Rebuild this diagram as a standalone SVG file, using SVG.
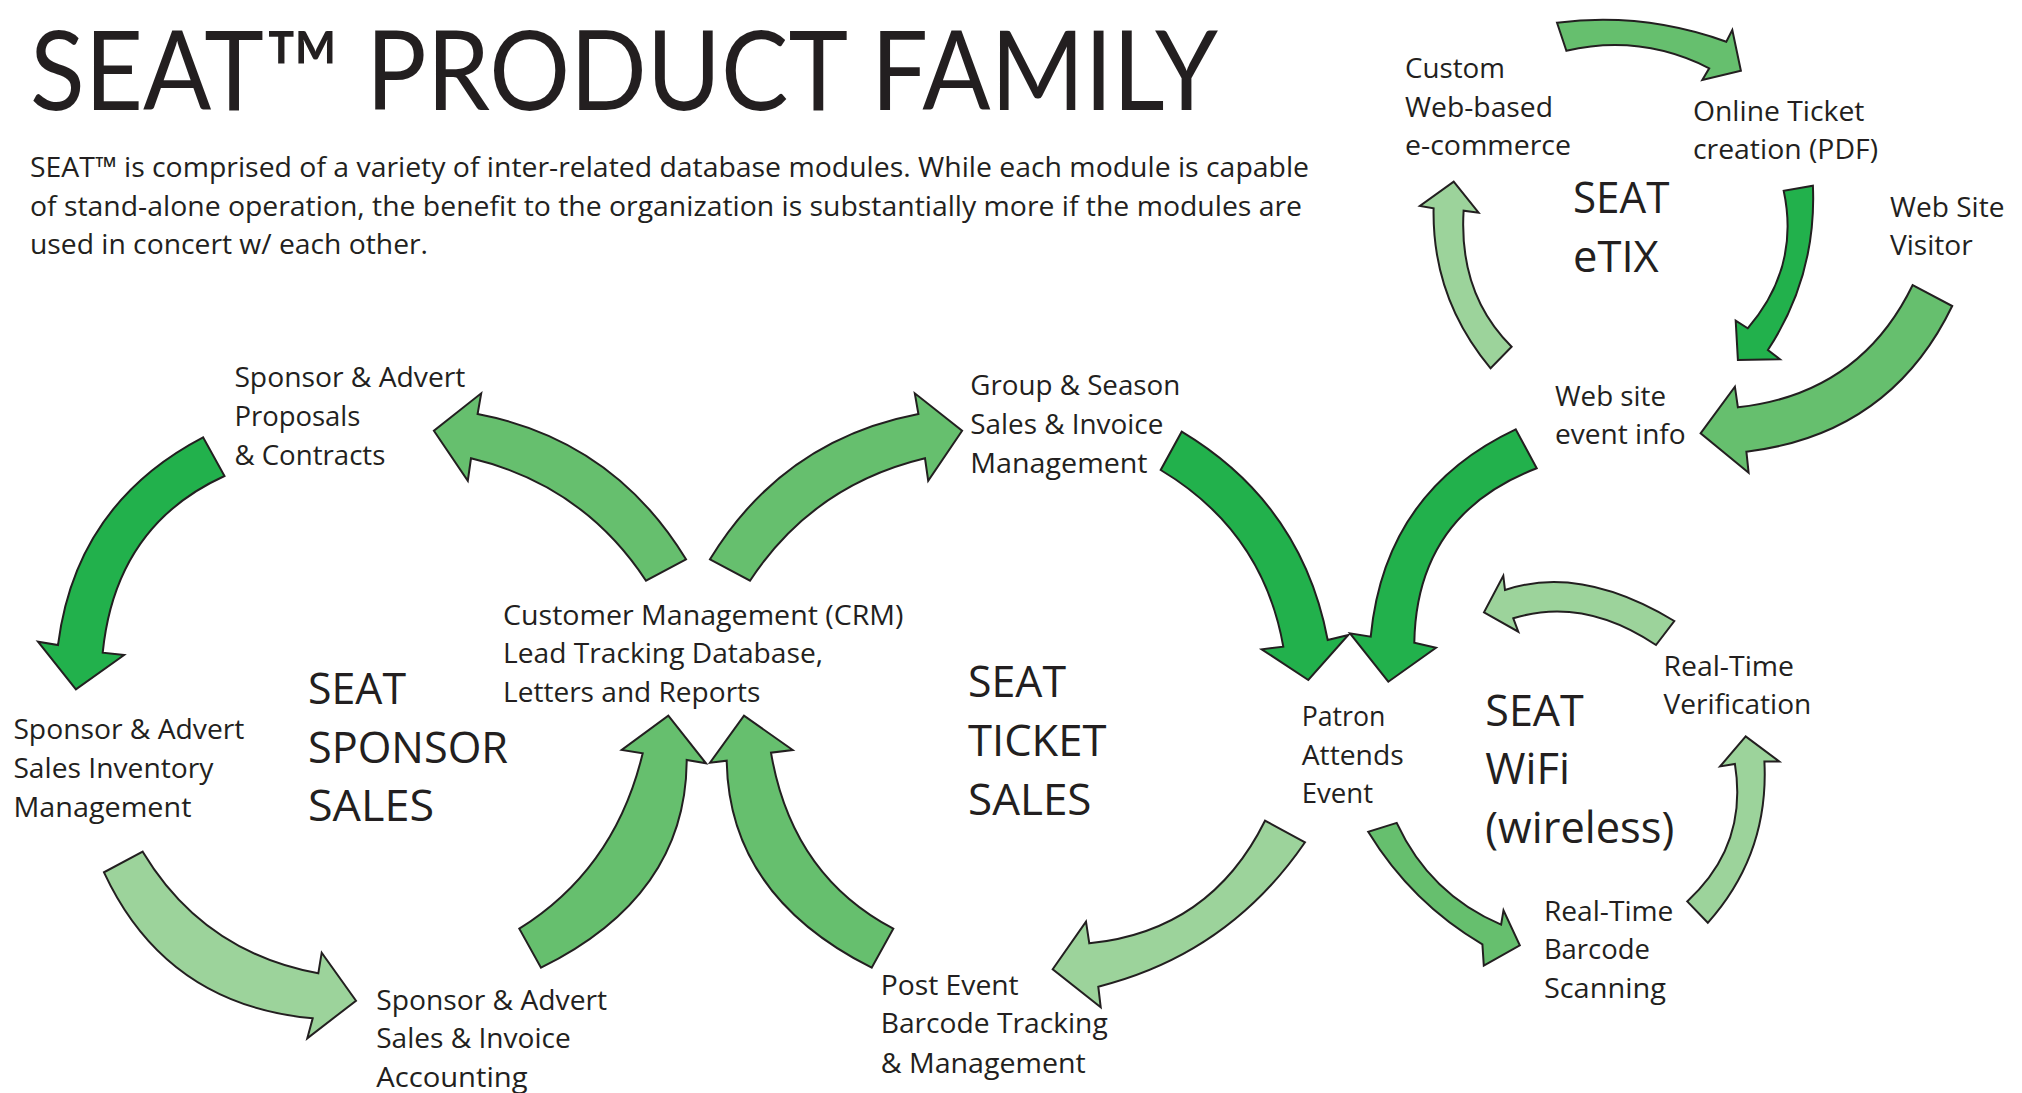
<svg xmlns="http://www.w3.org/2000/svg" width="2022" height="1093" viewBox="0 0 2022 1093">
<style>
text{font-family:"Open Sans","Noto Sans","Liberation Sans",sans-serif;fill:#231f20}
.t{font-family:Lato,"Open Sans",sans-serif;font-size:110px}
.b{font-size:28px}
.l{font-size:28px}
.g{font-size:44px}
.ar{stroke:#231f20;stroke-width:2;stroke-linejoin:miter;stroke-miterlimit:10}
.dk{fill:#22b14c}
.md{fill:#66bf6e}
.lt{fill:#9cd39b}
</style>
<rect width="2022" height="1093" fill="#ffffff"/>
<g id="title">
<text class="t" x="30" y="110" textLength="1188" lengthAdjust="spacingAndGlyphs">SEAT™ PRODUCT FAMILY</text>
<text class="b" x="30" y="177" textLength="1279" lengthAdjust="spacingAndGlyphs">SEAT™ is comprised of a variety of inter-related database modules. While each module is capable</text>
<text class="b" x="30" y="215.5" textLength="1272" lengthAdjust="spacingAndGlyphs">of stand-alone operation, the benefit to the organization is substantially more if the modules are</text>
<text class="b" x="30" y="254" textLength="398" lengthAdjust="spacingAndGlyphs">used in concert w/ each other.</text>
</g>
<g id="connectors">
<path id="a-proposals-inventory" class="ar dk" d="M203.1,437.3 Q75.9,503.7 58,645 L38,641.7 L75.9,689.3 L124.1,655 L102.7,652.7 Q115.4,525.7 224.5,476 Z"/>
<path id="a-crm-proposals" class="ar md" d="M686,559.3 Q613.2,440 477.6,414 L481.2,393.3 L433.9,430.7 L467.8,480.7 L471,458.3 Q583.1,485.1 646,580.7 Z"/>
<path id="a-crm-group" class="ar md" d="M710,559.3 Q782.8,440 918.4,414 L914.8,393.3 L962.1,430.7 L928.2,480.7 L925,458.3 Q812.9,485.1 750,580.7 Z"/>
<path id="a-group-patron" class="ar dk" d="M1181.7,431.7 Q1301.9,503.8 1327.7,640 L1348.3,635 L1308.3,680 L1261.7,649.3 L1283.3,646.7 Q1263,531.3 1160.7,470 Z"/>
<path id="a-eventinfo-patron" class="ar dk" d="M1515.7,429.3 Q1384.8,491 1370.7,636.7 L1350,633.3 L1388.3,681.7 L1436,647.7 L1414.3,642.7 Q1416.5,514.5 1536.7,468.3 Z"/>
<path id="a-inventory-accounting" class="ar lt" d="M104,872.3 Q165.7,1004.9 312.7,1018.3 L307.3,1038.3 L356,1000.7 L321.7,952.7 L318.3,973.3 Q203.1,952.1 142.7,851.7 Z"/>
<path id="a-accounting-crm" class="ar md" d="M519.3,928.7 Q615,869 642.7,753.3 L621.7,750 L668.3,715.7 L706,763.3 L686.7,760 Q686.2,896.2 541,967.7 Z"/>
<path id="a-postevent-crm" class="ar md" d="M893.3,928.7 Q791.9,875.3 771,752.7 L792.7,750 L744,715.7 L710,762.7 L726.7,760.7 Q728.8,895.8 871.7,967.7 Z"/>
<path id="a-patron-postevent" class="ar lt" d="M1265,820.7 Q1210.3,931.2 1089.3,943.3 L1086,921.7 L1052.7,969.3 L1100.7,1007.3 L1098.3,986.7 Q1228.4,954.1 1305,842.3 Z"/>
<path id="a-patron-barcode" class="ar md" d="M1368.2,831.8 Q1411.9,903.2 1482.4,944.3 L1483.8,965.7 L1519.8,945.3 L1503.5,910.3 L1501.1,924.6 Q1429.9,894.5 1396.7,822.9 Z"/>
<path id="a-barcode-verification" class="ar lt" d="M1707.8,922.8 Q1769.1,854.3 1764.4,761.4 L1779.2,761.4 L1745.7,736.4 L1720.1,766.4 L1734.9,763.9 Q1748.2,845.6 1687.2,901.4 Z"/>
<path id="a-verification-wifi" class="ar lt" d="M1674.3,621 Q1580.4,564.5 1505,590 L1503.3,575.7 L1484,612.3 L1518.3,631.7 L1513.3,618.3 Q1583.4,596.4 1656,645 Z"/>
<path id="a-eventinfo-custom" class="ar lt" d="M1490.6,368.3 Q1431.9,298.1 1433.6,208.3 L1419.9,206 L1453.7,181.7 L1478.6,212.7 L1463.6,210.7 Q1458.6,294.3 1511.6,346.7 Z"/>
<path id="a-custom-online" class="ar md" d="M1557,22.7 Q1643.4,11.8 1726.3,41.7 L1732.3,30 L1740.9,70.7 L1702.3,80 L1709.2,68.3 Q1641.2,33.7 1566.4,50.7 Z"/>
<path id="a-online-eventinfo" class="ar dk" d="M1812.9,185.7 Q1816.8,275.4 1767.9,350 L1779.9,359.3 L1737.9,360 L1735.7,320.7 L1747.7,328.3 Q1800.1,267.7 1783.7,190.7 Z"/>
<path id="a-visitor-eventinfo" class="ar md" d="M1952.2,306 Q1890.1,434.4 1746.4,451.7 L1748.6,472.7 L1700.6,433.3 L1734.9,386.7 L1737.9,407.3 Q1859.7,394.1 1912.7,285 Z"/>
</g>
<g id="n-proposals">
<text class="l" x="234.4" y="387" textLength="231" lengthAdjust="spacingAndGlyphs">Sponsor &amp; Advert</text>
<text class="l" x="234.4" y="426" textLength="126" lengthAdjust="spacingAndGlyphs">Proposals</text>
<text class="l" x="234.4" y="465" textLength="151" lengthAdjust="spacingAndGlyphs">&amp; Contracts</text>
</g>
<g id="n-inventory">
<text class="l" x="13.4" y="739" textLength="231" lengthAdjust="spacingAndGlyphs">Sponsor &amp; Advert</text>
<text class="l" x="13.4" y="778" textLength="200" lengthAdjust="spacingAndGlyphs">Sales Inventory</text>
<text class="l" x="13.4" y="817" textLength="178" lengthAdjust="spacingAndGlyphs">Management</text>
</g>
<g id="n-sponsor-sales">
<text class="g" x="308" y="704" textLength="98" lengthAdjust="spacingAndGlyphs">SEAT</text>
<text class="g" x="308" y="763" textLength="200" lengthAdjust="spacingAndGlyphs">SPONSOR</text>
<text class="g" x="308" y="821" textLength="126" lengthAdjust="spacingAndGlyphs">SALES</text>
</g>
<g id="n-crm">
<text class="l" x="503" y="625" textLength="400.5" lengthAdjust="spacingAndGlyphs">Customer Management (CRM)</text>
<text class="l" x="503" y="663.3" textLength="320" lengthAdjust="spacingAndGlyphs">Lead Tracking Database,</text>
<text class="l" x="503" y="701.7" textLength="257.5" lengthAdjust="spacingAndGlyphs">Letters and Reports</text>
</g>
<g id="n-group-season">
<text class="l" x="970.3" y="395" textLength="210" lengthAdjust="spacingAndGlyphs">Group &amp; Season</text>
<text class="l" x="970.3" y="434" textLength="193" lengthAdjust="spacingAndGlyphs">Sales &amp; Invoice</text>
<text class="l" x="970.3" y="472.7" textLength="177.3" lengthAdjust="spacingAndGlyphs">Management</text>
</g>
<g id="n-ticket-sales">
<text class="g" x="968" y="697" textLength="98" lengthAdjust="spacingAndGlyphs">SEAT</text>
<text class="g" x="968" y="756" textLength="138.4" lengthAdjust="spacingAndGlyphs">TICKET</text>
<text class="g" x="968" y="814.5" textLength="123.5" lengthAdjust="spacingAndGlyphs">SALES</text>
</g>
<g id="n-patron">
<text class="l" x="1301.7" y="726.4" textLength="83.7" lengthAdjust="spacingAndGlyphs">Patron</text>
<text class="l" x="1301.7" y="764.6" textLength="102" lengthAdjust="spacingAndGlyphs">Attends</text>
<text class="l" x="1301.7" y="803.2" textLength="71.4" lengthAdjust="spacingAndGlyphs">Event</text>
</g>
<g id="n-wifi">
<text class="g" x="1485.3" y="725.7" textLength="98.5" lengthAdjust="spacingAndGlyphs">SEAT</text>
<text class="g" x="1485.3" y="784" textLength="84.7" lengthAdjust="spacingAndGlyphs">WiFi</text>
<text class="g" x="1485.3" y="842.5" textLength="189" lengthAdjust="spacingAndGlyphs">(wireless)</text>
</g>
<g id="n-verification">
<text class="l" x="1663.5" y="675.7" textLength="130.5" lengthAdjust="spacingAndGlyphs">Real-Time</text>
<text class="l" x="1663.5" y="713.9" textLength="147.7" lengthAdjust="spacingAndGlyphs">Verification</text>
</g>
<g id="n-barcode-scanning">
<text class="l" x="1543.9" y="921" textLength="129.5" lengthAdjust="spacingAndGlyphs">Real-Time</text>
<text class="l" x="1543.9" y="959.2" textLength="106" lengthAdjust="spacingAndGlyphs">Barcode</text>
<text class="l" x="1543.9" y="997.8" textLength="122" lengthAdjust="spacingAndGlyphs">Scanning</text>
</g>
<g id="n-post-event">
<text class="l" x="880.7" y="995" textLength="138" lengthAdjust="spacingAndGlyphs">Post Event</text>
<text class="l" x="880.7" y="1033.3" textLength="227" lengthAdjust="spacingAndGlyphs">Barcode Tracking</text>
<text class="l" x="880.7" y="1072.7" textLength="205" lengthAdjust="spacingAndGlyphs">&amp; Management</text>
</g>
<g id="n-accounting">
<text class="l" x="376.2" y="1010" textLength="231" lengthAdjust="spacingAndGlyphs">Sponsor &amp; Advert</text>
<text class="l" x="376.2" y="1048.3" textLength="194.5" lengthAdjust="spacingAndGlyphs">Sales &amp; Invoice</text>
<text class="l" x="376.2" y="1086.7" textLength="151.4" lengthAdjust="spacingAndGlyphs">Accounting</text>
</g>
<g id="n-custom">
<text class="l" x="1405" y="78.3" textLength="100" lengthAdjust="spacingAndGlyphs">Custom</text>
<text class="l" x="1405" y="116.7" textLength="148" lengthAdjust="spacingAndGlyphs">Web-based</text>
<text class="l" x="1405" y="155" textLength="166" lengthAdjust="spacingAndGlyphs">e-commerce</text>
</g>
<g id="n-online-ticket">
<text class="l" x="1693" y="120.7" textLength="171.4" lengthAdjust="spacingAndGlyphs">Online Ticket</text>
<text class="l" x="1693" y="159.3" textLength="185" lengthAdjust="spacingAndGlyphs">creation (PDF)</text>
</g>
<g id="n-etix">
<text class="g" x="1573" y="212.7" textLength="96.4" lengthAdjust="spacingAndGlyphs">SEAT</text>
<text class="g" x="1573" y="271.7" textLength="85.7" lengthAdjust="spacingAndGlyphs">eTIX</text>
</g>
<g id="n-visitor">
<text class="l" x="1890" y="217.3" textLength="114.4" lengthAdjust="spacingAndGlyphs">Web Site</text>
<text class="l" x="1890" y="255" textLength="82.7" lengthAdjust="spacingAndGlyphs">Visitor</text>
</g>
<g id="n-event-info">
<text class="l" x="1555" y="406" textLength="111" lengthAdjust="spacingAndGlyphs">Web site</text>
<text class="l" x="1555" y="444" textLength="130.7" lengthAdjust="spacingAndGlyphs">event info</text>
</g>
</svg>
